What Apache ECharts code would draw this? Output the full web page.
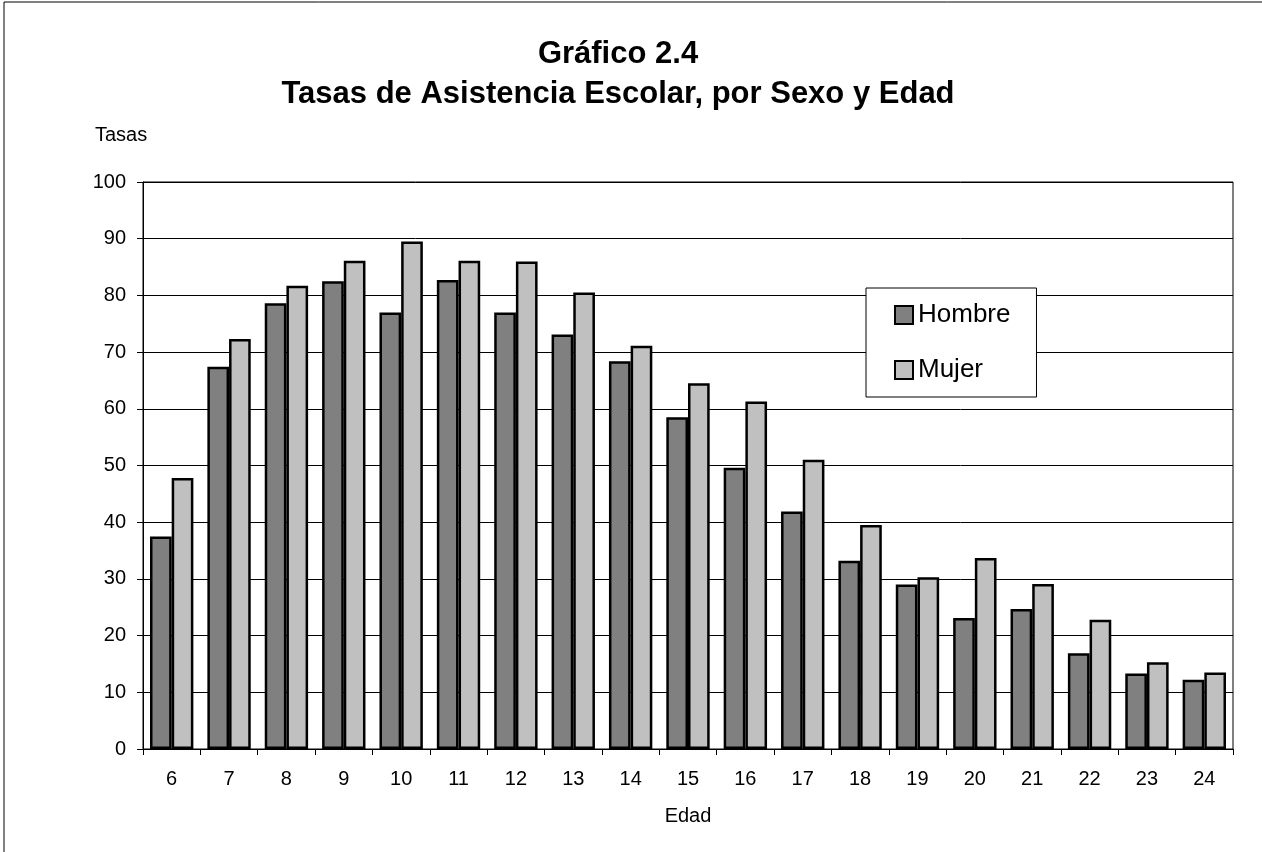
<!DOCTYPE html>
<html>
<head>
<meta charset="utf-8">
<script src="https://cdn.jsdelivr.net/npm/echarts@6/dist/echarts.min.js"></script>
<style>
  html, body { margin: 0; padding: 0; background: #fff; }
  #chart { width: 1262px; height: 852px; }
</style>
</head>
<body>
<div id="chart"></div>
<script>
const edades = ['6', '7', '8', '9', '10', '11', '12', '13', '14', '15', '16', '17', '18', '19', '20', '21', '22', '23', '24'];
const hombre = [37.5, 67.4, 78.6, 82.5, 77.0, 82.7, 77.0, 73.1, 68.4, 58.5, 49.6, 41.9, 33.2, 29.0, 23.1, 24.7, 16.9, 13.3, 12.2];
const mujer = [47.8, 72.3, 81.7, 86.1, 89.5, 86.1, 86.0, 80.5, 71.1, 64.5, 61.3, 51.0, 39.5, 30.3, 33.7, 29.1, 22.8, 15.3, 13.5];

const FONT = '"Liberation Sans", Arial, sans-serif';

const chart = echarts.init(document.getElementById('chart'), null, { renderer: 'canvas' });

chart.setOption({
  animation: false,
  backgroundColor: '#fff',
  textStyle: { fontFamily: FONT, color: '#000' },
  title: [
    {
      text: 'Gráfico 2.4\nTasas de Asistencia Escolar, por Sexo y Edad',
      left: 613,
      top: 29,
      textAlign: 'center',
      textStyle: { fontFamily: FONT, fontSize: 31, fontWeight: 'bold', lineHeight: 40, color: '#000' }
    },
    {
      text: 'Tasas',
      left: 90,
      top: 120,
      textStyle: { fontFamily: FONT, fontSize: 20, fontWeight: 'normal', color: '#000' }
    }
  ],
  // marco exterior (arriba e izquierda)
  graphic: [
    { type: 'line', shape: { x1: 4, y1: 2, x2: 1262, y2: 2 }, style: { stroke: '#000', lineWidth: 1 } },
    { type: 'line', shape: { x1: 4, y1: 2, x2: 4, y2: 852 }, style: { stroke: '#000', lineWidth: 1 } }
  ],
  legend: {
    orient: 'vertical',
    left: 866,
    top: 288,
    padding: [14, 26, 14, 28],
    itemWidth: 18,
    itemHeight: 18,
    itemGap: 29,
    borderColor: '#000',
    borderWidth: 1,
    backgroundColor: '#fff',
    icon: 'rect',
    textStyle: { fontFamily: FONT, fontSize: 26, color: '#000' },
    data: ['Hombre', 'Mujer']
  },
  grid: {
    left: 143,
    right: 29,
    top: 182,
    bottom: 103,
    show: true,
    borderColor: '#000',
    borderWidth: 1,
    containLabel: false
  },
  xAxis: {
    type: 'category',
    data: edades,
    name: 'Edad',
    nameLocation: 'middle',
    nameGap: 57,
    nameTextStyle: { fontFamily: FONT, fontSize: 20, color: '#000', verticalAlign: 'top' },
    axisLine: { lineStyle: { color: '#000', width: 1 } },
    axisTick: { show: true, length: 6, lineStyle: { color: '#000' } },
    axisLabel: { fontFamily: FONT, fontSize: 20, color: '#000', margin: 20 }
  },
  yAxis: {
    type: 'value',
    min: 0,
    max: 100,
    interval: 10,
    axisLine: { show: true, lineStyle: { color: '#000', width: 1 } },
    axisTick: { show: true, length: 6, lineStyle: { color: '#000' } },
    axisLabel: { fontFamily: FONT, fontSize: 20, color: '#000', margin: 17 },
    splitLine: { lineStyle: { color: '#000', width: 1 } }
  },
  series: [
    {
      name: 'Hombre',
      type: 'bar',
      data: hombre,
      barWidth: '37.8%',
      barGap: '0%',
      itemStyle: { color: '#808080', borderColor: '#000', borderWidth: 2.5 }
    },
    {
      name: 'Mujer',
      type: 'bar',
      data: mujer,
      barWidth: '37.8%',
      barGap: '0%',
      itemStyle: { color: '#c0c0c0', borderColor: '#000', borderWidth: 2.5 }
    }
  ]
});
</script>
</body>
</html>
